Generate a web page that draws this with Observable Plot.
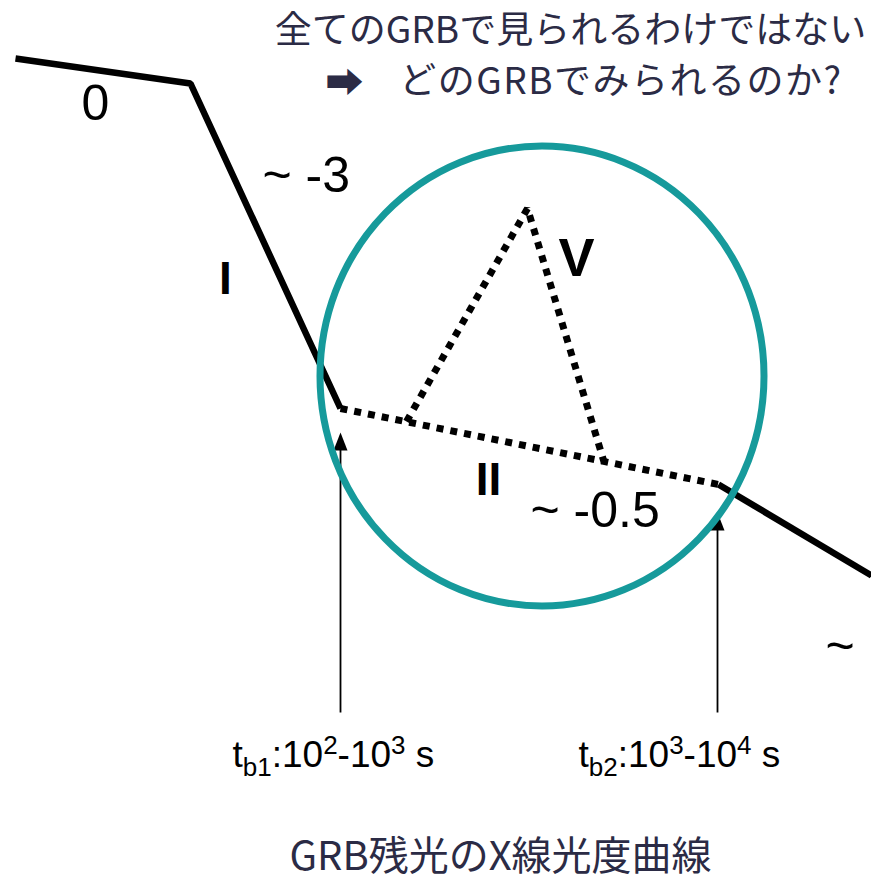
<!DOCTYPE html>
<html>
<head>
<meta charset="utf-8">
<script src="https://cdn.jsdelivr.net/npm/d3@7"></script>
<script src="https://cdn.jsdelivr.net/npm/@observablehq/plot@0.6"></script>
<style>
  html, body { margin: 0; padding: 0; background: #fff; }
  #chart svg { display: block; }
  .spaced text { letter-spacing: 1.5px; }
</style>
</head>
<body>
<div id="chart"></div>
<script>
// Schematic light-curve (canonical X-ray afterglow), schematic units: x = log time (arb.), y = log flux (arb., downward)
const solidSegA_x = [15, 190, 340];        // segment 0 and steep decay I
const solidSegA_y = [58, 83, 408];
const plateau_x = [340, 718];              // shallow decay II (dotted)
const plateau_y = [408, 484];
const flare_x = [406, 527, 604];           // flare V (dotted)
const flare_y = [421, 208, 463];
const normal_x = [718, 871];               // normal decay III
const normal_y = [484, 575];

// Region highlighted by the ellipse
const circleCenter = {x: 541.5, y: 375.5};
const circleRx = 222, circleRy = 230;

// Break-time arrows
const breakX = [340, 717];
const breakTip = [432, 512];
const breakBottom = [712, 712];

// Slope labels
const slopeText = ["0", "~ -3", "~ -0.5", "~"];
const slopeX = [81, 262, 530, 825];
const slopeY = [103, 175, 510, 646];

// Segment labels
const segText = ["I", "V", "II"];
const segX = [225, 576, 488];
const segY = [279, 258, 480];
const segSize = [46, 54, 46];

// Break labels (parts: text, kind)
const breakLabelParts = [
  [["t",""],["b1","sub"],[":10",""],["2","sup"],["-10",""],["3","sup"],[" s",""]],
  [["t",""],["b2","sub"],[":10",""],["3","sup"],["-10",""],["4","sup"],[" s",""]]
];
const breakLabelX = [232, 578];
const breakLabelY = [755, 755];

// Titles
const titleLine1 = ["全てのGRBで見られるわけではない"];
const titleLine2Arrow = ["➡"];
const titleLine2 = ["どのGRBでみられるのか?"];
const captionText = ["GRB残光のX線光度曲線"];

const toPts = (xs, ys) => xs.map((x, i) => ({x, y: ys[i]}));

const arrowHead = {
  draw(ctx) { ctx.moveTo(0, 0); ctx.lineTo(-7, 18); ctx.lineTo(7, 18); ctx.closePath(); }
};

const navy = "#2b2b45";
const jp = "'Noto Sans CJK JP', 'DejaVu Sans', sans-serif";

const plot = Plot.plot({
  width: 871,
  height: 885,
  margin: 0,
  x: {domain: [0, 871], range: [0, 871], axis: null},
  y: {domain: [0, 885], range: [0, 885], axis: null},
  style: {background: "#fff"},
  marks: [
    Plot.line(toPts(solidSegA_x, solidSegA_y), {x: "x", y: "y", stroke: "#000", strokeWidth: 6.5, strokeLinejoin: "miter", strokeLinecap: "butt"}),
    Plot.line(toPts(normal_x, normal_y), {x: "x", y: "y", stroke: "#000", strokeWidth: 6.5, strokeLinecap: "butt"}),
    Plot.line(toPts(plateau_x, plateau_y), {x: "x", y: "y", stroke: "#000", strokeWidth: 7, strokeDasharray: "7,7", strokeLinecap: "butt"}),
    Plot.line(toPts(flare_x, flare_y), {x: "x", y: "y", stroke: "#000", strokeWidth: 7, strokeDasharray: "7,7", strokeLinecap: "butt", strokeLinejoin: "miter"}),
    // break arrows
    Plot.link(breakX.map((x, i) => ({x, y1: breakBottom[i], y2: breakTip[i] + 10})), {x1: "x", x2: "x", y1: "y1", y2: "y2", stroke: "#000", strokeWidth: 1.8}),
    Plot.dot(breakX.map((x, i) => ({x, y: breakTip[i]})), {x: "x", y: "y", symbol: arrowHead, fill: "#000", stroke: "none", r: 5}),
    // highlight ellipse
    Plot.dot([circleCenter], {x: "x", y: "y", r: circleRx, fill: "none", stroke: "#169a9b", strokeWidth: 7, className: "highlight"}),
    // labels
    Plot.text(slopeText, {x: (d, i) => slopeX[i], y: (d, i) => slopeY[i], text: d => d, textAnchor: "start", fontSize: 50, fontFamily: "Liberation Sans, Arial, sans-serif", fill: "#000"}),
    Plot.text(segText, {x: (d, i) => segX[i], y: (d, i) => segY[i], text: d => d, fontSize: (d, i) => segSize[i], fontWeight: "bold", fontFamily: "Liberation Sans, Arial, sans-serif", fill: "#000"}),
    Plot.text(breakLabelParts, {x: (d, i) => breakLabelX[i], y: (d, i) => breakLabelY[i], text: d => d.map(p => p[0]).join(""), textAnchor: "start", fontSize: 37, fontFamily: "Liberation Sans, Arial, sans-serif", fill: "#000", className: "breaklabel"}),
    Plot.text(titleLine1, {x: 570, y: 31, text: d => d, fontSize: 37, fontFamily: jp, fill: navy}),
    Plot.text(titleLine2Arrow, {x: 344, y: 83, text: d => d, fontSize: 38, fontFamily: "'Noto Sans CJK JP', sans-serif", fill: navy}),
    Plot.text(titleLine2, {x: 842, y: 82, text: d => d, textAnchor: "end", fontSize: 37, fontFamily: jp, fill: navy, className: "spaced"}),
    Plot.text(captionText, {x: 500, y: 857, text: d => d, fontSize: 40, fontFamily: jp, fill: navy})
  ]
});

// stretch the highlight circle into the slightly taller ellipse
d3.select(plot).selectAll(".highlight circle").each(function() {
  const c = d3.select(this);
  let cx = +c.attr("cx") || 0, cy = +c.attr("cy") || 0;
  const tr = c.attr("transform");
  if (tr) { const m = /translate\(([-\d.]+),\s*([-\d.]+)\)/.exec(tr); if (m) { cx = +m[1]; cy = +m[2]; } }
  const k = circleRy / circleRx;
  c.attr("cx", 0).attr("cy", 0)
   .attr("transform", `translate(${cx},${cy}) scale(1,${k})`)
   .style("vector-effect", "non-scaling-stroke");
});

// rebuild break labels with sub/superscripts
d3.select(plot).selectAll(".breaklabel text").each(function(_, i) {
  const parts = breakLabelParts[i];
  const t = d3.select(this);
  t.text(null);
  let shift = 0;
  for (const [s, kind] of parts) {
    const target = kind === "sub" ? 9 : kind === "sup" ? -13 : 0;
    const ts = t.append("tspan").text(s).attr("dy", target - shift);
    if (kind) ts.attr("font-size", 26);
    shift = target;
  }
});

document.getElementById("chart").appendChild(plot);
</script>
</body>
</html>
